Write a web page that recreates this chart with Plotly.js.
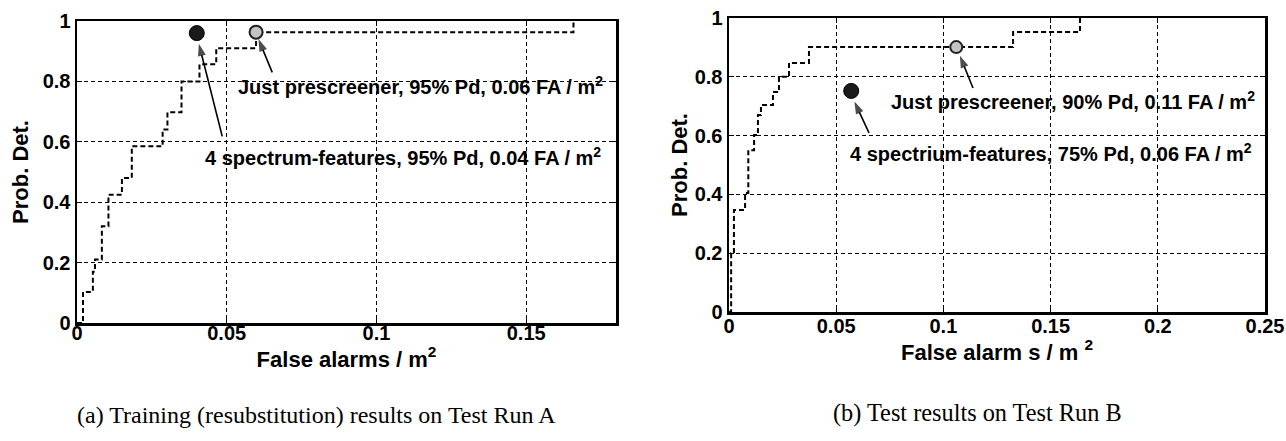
<!DOCTYPE html>
<html>
<head>
<meta charset="utf-8">
<script src="https://cdn.plot.ly/plotly-3.0.1.min.js"></script>
<style>html,body{margin:0;padding:0;background:#fff;}#chart{width:1286px;height:441px;}</style>
</head>
<body>
<div id="chart"></div>
<script>
// ---- Data ----
// (a) Training (resubstitution) results on Test Run A : ROC staircase
const faA = [0, 0.002, 0.0053, 0.006, 0.0083, 0.0105, 0.015, 0.0183, 0.0286, 0.0302, 0.0349, 0.0409, 0.0465, 0.0598, 0.1658];
const pdA = [0, 0.103, 0.17, 0.21, 0.32, 0.425, 0.48, 0.585, 0.641, 0.698, 0.8, 0.857, 0.91, 0.963, 1.0];
// (b) Test results on Test Run B : ROC staircase
const faB = [0, 0.001, 0.0023, 0.0075, 0.009, 0.0117, 0.0135, 0.0149, 0.0205, 0.0233, 0.028, 0.0373, 0.1325, 0.1637];
const pdB = [0, 0.2, 0.347, 0.405, 0.55, 0.602, 0.67, 0.704, 0.748, 0.8, 0.847, 0.901, 0.952, 1.0];

// Operating points: [4 spectrum-features, just prescreener]
const opFA_A = [0.04, 0.0598];
const opPD_A = [0.96, 0.963];
const opFA_B = [0.057, 0.106];
const opPD_B = [0.752, 0.901];

const labelsA = ["Just prescreener, 95% Pd, 0.06 FA / m<sup>2</sup>", "4 spectrum-features, 95% Pd, 0.04 FA / m<sup>2</sup>"];
const labelsB = ["Just prescreener, 90% Pd, 0.11 FA / m<sup>2</sup>", "4 spectrium-features, 75% Pd, 0.06 FA / m<sup>2</sup>"];

// Arrow tails -> heads (label to operating point), [prescreener, spectrum]
const arrowTailA_x = [0.0652, 0.0485], arrowTailA_y = [0.83, 0.618];
const arrowHeadA_x = [0.0606, 0.0407], arrowHeadA_y = [0.94, 0.925];
const arrowTailB_x = [0.1138, 0.0653], arrowTailB_y = [0.762, 0.609];
const arrowHeadB_x = [0.1077, 0.0585], arrowHeadB_y = [0.872, 0.716];

const xTicksA = [0, 0.05, 0.1, 0.15];
const xTickTextA = ["0", "0.05", "0.1", "0.15"];
const xTicksB = [0, 0.05, 0.1, 0.15, 0.2, 0.25];
const xTickTextB = ["0", "0.05", "0.1", "0.15", "0.2", "0.25"];
const yTicks = [0, 0.2, 0.4, 0.6, 0.8, 1];
const yTickText = ["0", "0.2", "0.4", "0.6", "0.8", "1"];

const captions = ["(a) Training (resubstitution) results on Test Run A", "(b) Test results on Test Run B"];

// ---- Styling ----
const W = 1286, H = 441;
const SANS = "Liberation Sans, Arial, Helvetica, sans-serif";
const SERIF = "Liberation Serif, Times New Roman, serif";
const tickFont = {family: SANS, size: 20, color: "#000", weight: "bold"};
const titleFont = {family: SANS, size: 22, color: "#000", weight: "bold"};
const annFont = {family: SANS, size: 20, color: "#000", weight: "bold"};

function axisBase() {
  return {
    showline: true, linecolor: "#000", linewidth: 2.5, mirror: "ticks",
    ticks: "inside", ticklen: 5, tickwidth: 1, tickcolor: "#000",
    showgrid: true, gridcolor: "#000", gridwidth: 1, griddash: "4px,3px",
    zeroline: false, tickfont: tickFont, tickmode: "array", fixedrange: true
  };
}

const curveLine = {color: "#000", width: 2, dash: "5px,3px", shape: "hv"};

function arrowTrace(xa, ya, tx, ty, hx, hy) {
  return {x: [tx, hx], y: [ty, hy], xaxis: xa, yaxis: ya, mode: "lines+markers",
          line: {color: "#000", width: 1.6},
          marker: {symbol: "arrow", size: [0, 13], angleref: "previous", color: "#000",
                   line: {width: 0}},
          hoverinfo: "skip"};
}

const traces = [
  {x: faA, y: pdA, xaxis: "x", yaxis: "y", mode: "lines", line: curveLine, hoverinfo: "skip"},
  {x: [opFA_A[0]], y: [opPD_A[0]], xaxis: "x", yaxis: "y", mode: "markers",
   marker: {size: 15, color: "#1a1a1a", line: {color: "#000", width: 1}}},
  {x: [opFA_A[1]], y: [opPD_A[1]], xaxis: "x", yaxis: "y", mode: "markers",
   marker: {size: 13, color: "#c4c4c4", line: {color: "#222", width: 2}}},
  arrowTrace("x", "y", arrowTailA_x[0], arrowTailA_y[0], arrowHeadA_x[0], arrowHeadA_y[0]),
  arrowTrace("x", "y", arrowTailA_x[1], arrowTailA_y[1], arrowHeadA_x[1], arrowHeadA_y[1]),
  {x: faB, y: pdB, xaxis: "x2", yaxis: "y2", mode: "lines", line: curveLine, hoverinfo: "skip"},
  {x: [opFA_B[0]], y: [opPD_B[0]], xaxis: "x2", yaxis: "y2", mode: "markers",
   marker: {size: 15, color: "#1a1a1a", line: {color: "#000", width: 1}}},
  {x: [opFA_B[1]], y: [opPD_B[1]], xaxis: "x2", yaxis: "y2", mode: "markers",
   marker: {size: 12, color: "#c4c4c4", line: {color: "#222", width: 2}}},
  arrowTrace("x2", "y2", arrowTailB_x[0], arrowTailB_y[0], arrowHeadB_x[0], arrowHeadB_y[0]),
  arrowTrace("x2", "y2", arrowTailB_x[1], arrowTailB_y[1], arrowHeadB_x[1], arrowHeadB_y[1])
];

const xA = Object.assign(axisBase(), {
  domain: [77 / W, 616 / W], range: [0, 0.18], anchor: "y",
  tickvals: xTicksA, ticktext: xTickTextA, ticklabelstandoff: -10,
  title: {text: "False alarms / m<sup>2</sup>", font: titleFont, standoff: 3}
});
const yA = Object.assign(axisBase(), {
  domain: [1 - 323 / H, 1 - 21 / H], range: [0, 1], anchor: "x",
  tickvals: yTicks, ticktext: yTickText,
  title: {text: "Prob. Det.", font: titleFont, standoff: 8}
});
const xB = Object.assign(axisBase(), {
  domain: [729 / W, 1265 / W], range: [0, 0.25], anchor: "y2",
  tickvals: xTicksB, ticktext: xTickTextB, ticklabelstandoff: -6,
  title: {text: "False alarm s / m <sup>2</sup>", font: titleFont, standoff: 0}
});
const yB = Object.assign(axisBase(), {
  domain: [1 - 312 / H, 1 - 18 / H], range: [0, 1], anchor: "x2",
  tickvals: yTicks, ticktext: yTickText,
  title: {text: "Prob. Det.", font: titleFont, standoff: 1}
});

function textAnn(xref, yref, x, y, text) {
  return {xref: xref, yref: yref, x: x, y: y, text: text, showarrow: false,
          xanchor: "left", yanchor: "middle", font: annFont};
}

const annotations = [
  textAnn("x", "y", 0.0532, 0.785, labelsA[0]),
  textAnn("x", "y", 0.0422, 0.55, labelsA[1]),
  textAnn("x2", "y2", 0.0748, 0.721, labelsB[0]),
  textAnn("x2", "y2", 0.0556, 0.544, labelsB[1]),
  {xref: "paper", yref: "paper", x: 316 / W, y: 1 - 415 / H, text: captions[0], showarrow: false,
   xanchor: "center", yanchor: "middle", font: {family: SERIF, size: 24, color: "#000"}},
  {xref: "paper", yref: "paper", x: 977 / W, y: 1 - 413 / H, text: captions[1], showarrow: false,
   xanchor: "center", yanchor: "middle", font: {family: SERIF, size: 24.3, color: "#000"}}
];

const layout = {
  width: W, height: H,
  margin: {l: 0, r: 0, t: 0, b: 0, autoexpand: false},
  paper_bgcolor: "#fff", plot_bgcolor: "#fff",
  showlegend: false,
  xaxis: xA, yaxis: yA, xaxis2: xB, yaxis2: yB,
  annotations: annotations
};

Plotly.newPlot("chart", traces, layout, {staticPlot: true, displayModeBar: false});
</script>
</body>
</html>
